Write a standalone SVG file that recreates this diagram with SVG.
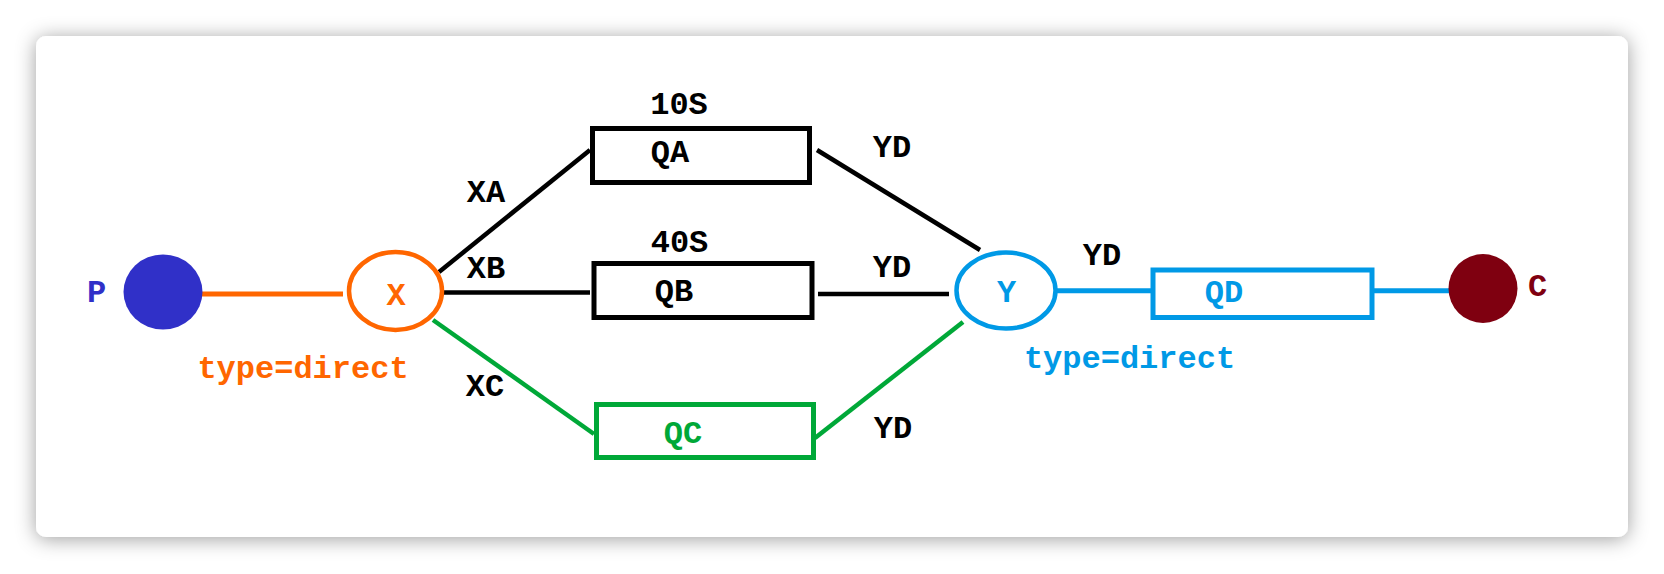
<svg xmlns="http://www.w3.org/2000/svg" width="1664" height="574" viewBox="0 0 1664 574">
  <defs>
    <filter id="shadow" x="-5%" y="-10%" width="110%" height="125%">
      <feDropShadow dx="0" dy="2" stdDeviation="10" flood-color="#000" flood-opacity="0.38"/>
    </filter>
  </defs>
  <style>
    text { font-family: "Liberation Mono", "Courier New", monospace; font-weight: bold; font-size: 32px; text-anchor: middle; }
    .blk { fill: #000; }
    .box { fill: #fff; stroke-width: 5; }
    .ln { fill: none; stroke-width: 4.5; }
    .thick { stroke-width: 5; }
    .org { stroke: #ff6600; }
    .blu { stroke: #0099e6; }
    .grn { stroke: #00a838; }
    .k { stroke: #000; }
  </style>
  <rect x="0" y="0" width="1664" height="574" fill="#ffffff"/>
  <rect x="36" y="36" width="1592" height="501" rx="10" fill="#ffffff" filter="url(#shadow)"/>

  <g id="connectors">
    <line class="ln thick org" x1="202" y1="294" x2="343" y2="294"/>
    <line class="ln k" x1="439" y1="272" x2="590" y2="150"/>
    <line class="ln k" x1="441" y1="292.5" x2="590" y2="292.5"/>
    <line class="ln grn" x1="433" y1="320" x2="594" y2="434"/>
    <line class="ln k" x1="817" y1="150" x2="980" y2="250"/>
    <line class="ln k" x1="818" y1="294" x2="949" y2="294"/>
    <line class="ln grn" x1="815" y1="438" x2="963" y2="322"/>
    <line class="ln thick blu" x1="1057" y1="290.7" x2="1152" y2="290.7"/>
    <line class="ln thick blu" x1="1373" y1="290.7" x2="1449" y2="290.7"/>
    <text class="blk" x="486" y="201.5">XA</text>
    <text class="blk" x="486" y="278">XB</text>
    <text class="blk" x="485" y="396">XC</text>
    <text class="blk" x="892" y="157">YD</text>
    <text class="blk" x="892" y="277">YD</text>
    <text class="blk" x="893" y="438">YD</text>
    <text class="blk" x="1102" y="265">YD</text>
  </g>

  <g id="P">
    <ellipse cx="163" cy="292" rx="39.5" ry="37.5" fill="#3030c8"/>
    <text x="96.5" y="301.5" fill="#3030c8">P</text>
  </g>

  <g id="X">
    <ellipse cx="395.5" cy="291" rx="46.5" ry="39" fill="#fff" stroke="#ff6600" stroke-width="4.5"/>
    <text x="396" y="305" fill="#ff6600">X</text>
    <text x="303" y="378" fill="#ff6600">type=direct</text>
  </g>

  <g id="QA">
    <rect class="box k" x="592.5" y="128.5" width="217" height="54"/>
    <text class="blk" x="670" y="161.7">QA</text>
    <text class="blk" x="679" y="114">10S</text>
  </g>

  <g id="QB">
    <rect class="box k" x="594" y="263.5" width="218" height="54"/>
    <text class="blk" x="674" y="301">QB</text>
    <text class="blk" x="679.5" y="252">40S</text>
  </g>

  <g id="QC">
    <rect class="box grn" x="596.5" y="404.5" width="217" height="53"/>
    <text x="683" y="443" fill="#00a838">QC</text>
  </g>

  <g id="Y">
    <ellipse cx="1006" cy="290.5" rx="49.5" ry="38" fill="#fff" stroke="#0099e6" stroke-width="4.5"/>
    <text x="1006.5" y="302" fill="#0099e6">Y</text>
    <text x="1129.5" y="368" fill="#0099e6">type=direct</text>
  </g>

  <g id="QD">
    <rect class="box blu" x="1153" y="270" width="219" height="47.5"/>
    <text x="1224" y="301.5" fill="#0099e6">QD</text>
  </g>

  <g id="C">
    <circle cx="1483" cy="288.5" r="34.5" fill="#7f0010"/>
    <text x="1537.7" y="295.7" fill="#7f0010">C</text>
  </g>
</svg>
